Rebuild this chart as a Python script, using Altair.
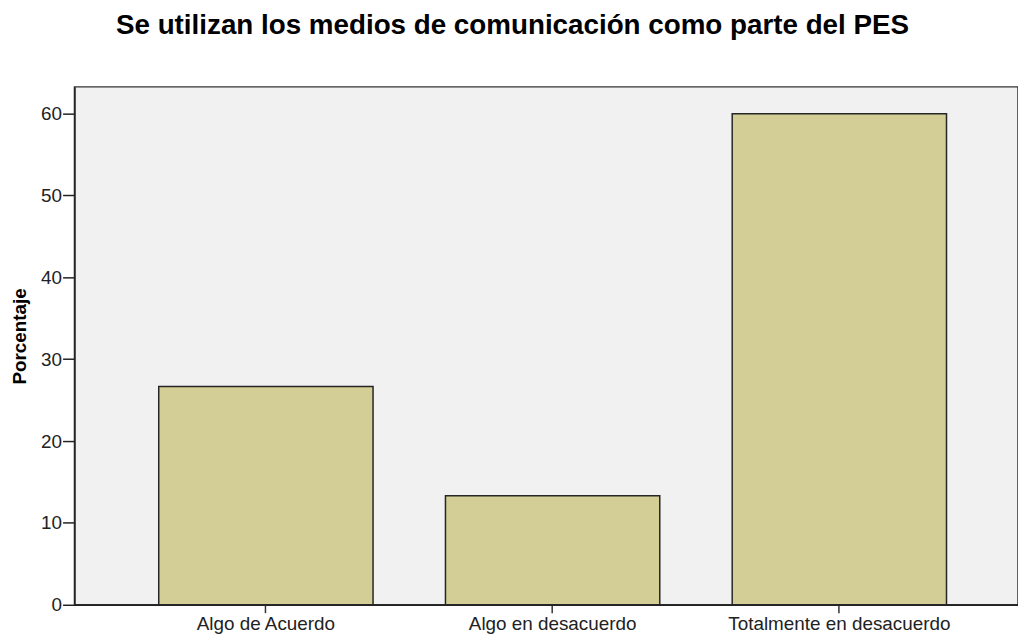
import altair as alt
import pandas as pd

categorias = ["Algo de Acuerdo", "Algo en desacuerdo", "Totalmente en desacuerdo"]
porcentajes = [26.67, 13.33, 60.0]
y_ticks = [0, 10, 20, 30, 40, 50, 60]
titulo = "Se utilizan los medios de comunicación como parte del PES"

df = pd.DataFrame({"categoria": categorias, "porcentaje": porcentajes})

FONT = "Liberation Sans"

chart = alt.Chart(
    df,
    title=alt.Title(
        titulo,
        font=FONT,
        fontSize=28,
        fontWeight="bold",
        color="#000000",
        anchor="middle",
        frame="group",
        baseline="alphabetic",
        dx=-34,
        offset=25,
    ),
).mark_bar(
    fill="#D2CE96", stroke="#262626", strokeWidth=1.5
).encode(
    x=alt.X(
        "categoria:N",
        sort=categorias,
        title=None,
        scale=alt.Scale(paddingInner=0.2526, paddingOuter=0.2716, align=0.541),
        axis=alt.Axis(
            labelAngle=0,
            labelFont=FONT,
            labelFontSize=19,
            labelColor="#222222",
            labelLimit=0,
            tickSize=8,
            tickColor="#333333",
            tickWidth=1.5,
            domainColor="#222222",
            domainWidth=1.5,
            labelPadding=2,
        ),
    ),
    y=alt.Y(
        "porcentaje:Q",
        title="Porcentaje",
        scale=alt.Scale(domain=[0, 63.27], nice=False, zero=True),
        axis=alt.Axis(
            values=y_ticks,
            grid=False,
            labelFont=FONT,
            labelFontSize=19,
            labelColor="#222222",
            tickSize=12,
            tickColor="#222222",
            tickWidth=1.5,
            domainColor="#222222",
            domainWidth=1.5,
            labelPadding=1,
            titleFont=FONT,
            titleFontSize=19,
            titleFontWeight="bold",
            titleColor="#000000",
            titlePadding=11,
            titleY=251,
        ),
    ),
).properties(
    width=951,
    height=522,
    autosize=alt.AutoSizeParams(type="none"),
    padding={"left": 67, "top": 77, "right": 0, "bottom": 31},
).configure_view(
    fill="#F0F1F0", stroke="#333333", strokeWidth=1.5
)

chart.save("out.html", embed_options={"renderer": "svg", "actions": False})
